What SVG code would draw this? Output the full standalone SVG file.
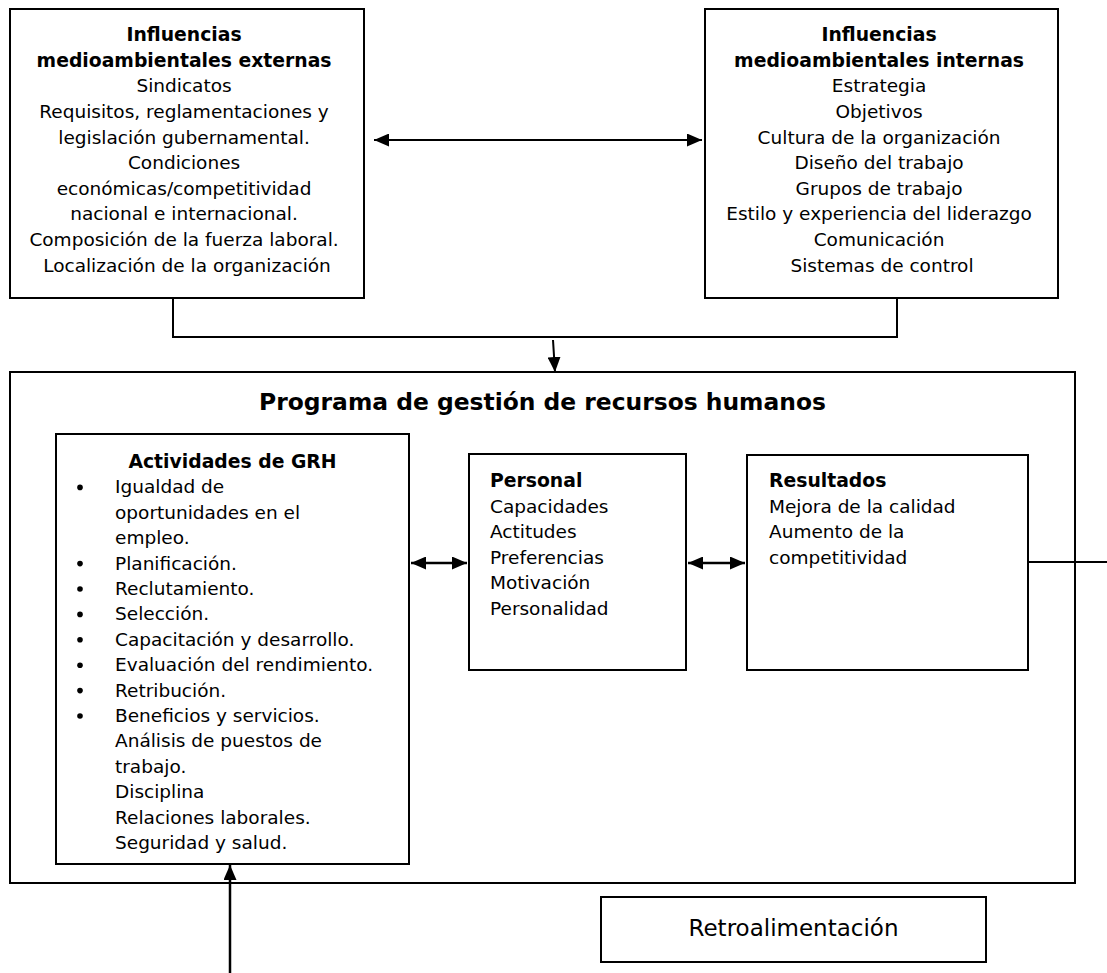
<svg xmlns="http://www.w3.org/2000/svg" width="1107" height="973" viewBox="0 0 1107 973">
<style>
.box{fill:#fff;stroke:#000;stroke-width:2}
.t{font-family:"DejaVu Sans",Verdana,sans-serif;font-size:18.5px;fill:#000}
.b{font-weight:bold;font-size:18.8px}
.c{text-anchor:middle}
.conn{stroke:#000;stroke-width:2;fill:none}
.arr{stroke:#000;stroke-width:2.5;fill:none}
</style>
<defs>
<marker id="ah" viewBox="0 0 15 13" refX="15" refY="6.5" markerWidth="15" markerHeight="13" orient="auto-start-reverse" markerUnits="userSpaceOnUse">
<path d="M0,0 L15,6.5 L0,13 z" fill="#000"/>
</marker>
</defs>
<rect width="1107" height="973" fill="#fff"/>

<g id="externas">
<rect class="box" x="10" y="9" width="354" height="289"/>
<text class="t c" x="187" y="41">
<tspan class="b" x="187">Influencias</tspan>
<tspan class="b" x="187" dy="25.63">medioambientales externas</tspan>
<tspan x="187" dy="25.63">Sindicatos</tspan>
<tspan x="187" dy="25.63">Requisitos, reglamentaciones y</tspan>
<tspan x="187" dy="25.63">legislación gubernamental.</tspan>
<tspan x="187" dy="25.63">Condiciones</tspan>
<tspan x="187" dy="25.63">económicas/competitividad</tspan>
<tspan x="187" dy="25.63">nacional e internacional.</tspan>
<tspan x="187" dy="25.63">Composición de la fuerza laboral.</tspan>
<tspan x="187" dy="25.63">Localización de la organización</tspan>
</text>
</g>

<g id="internas">
<rect class="box" x="705" y="9" width="353" height="289"/>
<text class="t c" x="882" y="41">
<tspan class="b" x="882">Influencias</tspan>
<tspan class="b" x="882" dy="25.63">medioambientales internas</tspan>
<tspan x="882" dy="25.63">Estrategia</tspan>
<tspan x="882" dy="25.63">Objetivos</tspan>
<tspan x="882" dy="25.63">Cultura de la organización</tspan>
<tspan x="882" dy="25.63">Diseño del trabajo</tspan>
<tspan x="882" dy="25.63">Grupos de trabajo</tspan>
<tspan x="882" dy="25.63">Estilo y experiencia del liderazgo</tspan>
<tspan x="882" dy="25.63">Comunicación</tspan>
<tspan x="882" dy="25.63">Sistemas de control</tspan>
</text>
</g>

<g id="programa">
<rect class="box" x="10" y="372" width="1065" height="511"/>
<text class="t c" x="542.5" y="410" style="font-weight:bold;font-size:23.4px">Programa de gestión de recursos humanos</text>
</g>

<g id="actividades">
<rect class="box" x="56" y="434" width="353" height="430"/>
<text class="t b c" x="232.5" y="468">Actividades de GRH</text>
<g fill="#000">
<circle cx="80" cy="487.4" r="2.8"/>
<circle cx="80" cy="563.6" r="2.8"/>
<circle cx="80" cy="589" r="2.8"/>
<circle cx="80" cy="614.4" r="2.8"/>
<circle cx="80" cy="639.8" r="2.8"/>
<circle cx="80" cy="665.2" r="2.8"/>
<circle cx="80" cy="690.6" r="2.8"/>
<circle cx="80" cy="716" r="2.8"/>
</g>
<text class="t" x="115" y="493.4">
<tspan x="115">Igualdad de</tspan>
<tspan x="115" dy="25.4">oportunidades en el</tspan>
<tspan x="115" dy="25.4">empleo.</tspan>
<tspan x="115" dy="25.4">Planificación.</tspan>
<tspan x="115" dy="25.4">Reclutamiento.</tspan>
<tspan x="115" dy="25.4">Selección.</tspan>
<tspan x="115" dy="25.4">Capacitación y desarrollo.</tspan>
<tspan x="115" dy="25.4">Evaluación del rendimiento.</tspan>
<tspan x="115" dy="25.4">Retribución.</tspan>
<tspan x="115" dy="25.4">Beneficios y servicios.</tspan>
<tspan x="115" dy="25.4">Análisis de puestos de</tspan>
<tspan x="115" dy="25.4">trabajo.</tspan>
<tspan x="115" dy="25.4">Disciplina</tspan>
<tspan x="115" dy="25.4">Relaciones laborales.</tspan>
<tspan x="115" dy="25.4">Seguridad y salud.</tspan>
</text>
</g>

<g id="personal">
<rect class="box" x="469" y="454" width="217" height="216"/>
<text class="t" x="490" y="487">
<tspan class="b" x="490">Personal</tspan>
<tspan x="490" dy="25.6">Capacidades</tspan>
<tspan x="490" dy="25.6">Actitudes</tspan>
<tspan x="490" dy="25.6">Preferencias</tspan>
<tspan x="490" dy="25.6">Motivación</tspan>
<tspan x="490" dy="25.6">Personalidad</tspan>
</text>
</g>

<g id="resultados">
<rect class="box" x="747" y="455" width="281" height="215"/>
<text class="t" x="769" y="487">
<tspan class="b" x="769">Resultados</tspan>
<tspan x="769" dy="25.6">Mejora de la calidad</tspan>
<tspan x="769" dy="25.6">Aumento de la</tspan>
<tspan x="769" dy="25.6">competitividad</tspan>
</text>
</g>

<g id="retroalimentacion">
<rect class="box" x="601" y="897" width="385" height="65"/>
<text class="t c" x="793.5" y="936" style="font-size:23px">Retroalimentación</text>
</g>

<g id="connectors">
<line class="conn" x1="374" y1="140" x2="702" y2="140" marker-start="url(#ah)" marker-end="url(#ah)"/>
<path class="conn" d="M173,298 V337 H897 V298"/>
<line class="conn" x1="553" y1="340" x2="555" y2="372" marker-end="url(#ah)"/>
<line class="arr" x1="411" y1="563" x2="467" y2="563" marker-start="url(#ah)" marker-end="url(#ah)"/>
<line class="arr" x1="688" y1="563" x2="745" y2="563" marker-start="url(#ah)" marker-end="url(#ah)"/>
<line class="conn" x1="1028" y1="562" x2="1107" y2="562"/>
<line class="arr" x1="230" y1="973" x2="230" y2="865" marker-end="url(#ah)"/>
</g>
</svg>
